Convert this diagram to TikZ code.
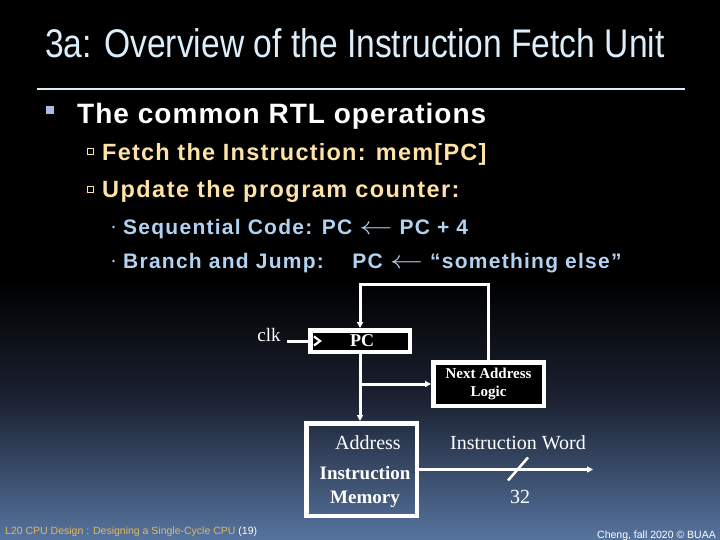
\documentclass[tikz,border=0pt]{standalone}
\usepackage{fontspec}
\setmainfont{Liberation Serif}
\setsansfont{Liberation Sans}
\newfontfamily\slidefont[FakeStretch=0.84]{Liberation Sans}
\usetikzlibrary{arrows.meta,positioning,calc}
\definecolor{bgbot}{HTML}{56749F}
\definecolor{bgmid}{HTML}{1C2232}
\definecolor{titlec}{HTML}{DCEEFA}
\definecolor{lvlone}{HTML}{A8C0DC}
\definecolor{lvltwo}{HTML}{FFE2A6}
\definecolor{lvlthree}{HTML}{B2D2F2}
\definecolor{footgold}{HTML}{E2B95E}
\newcommand{\getsarrow}{ \scalebox{1.6}[1.2]{$\leftarrow$} }
\tikzset{
  reg/.style={draw=white, line width=4.5pt, fill=black, inner sep=0pt, text=white, font=\bfseries\fontsize{18}{20}\selectfont},
  mem/.style={draw=white, line width=4.5pt, inner sep=0pt, text=white, align=center},
  lbl/.style={text=white, inner sep=0pt, font=\fontsize{20}{22}\selectfont},
  wire/.style={draw=white, line width=3pt},
  flow/.style={wire, -{Triangle[length=6pt,width=6pt]}},
  bul/.style={anchor=base west, inner sep=0pt},
}
\begin{document}
\begin{tikzpicture}[x=1pt,y=-1pt,node distance=12pt and 12pt]
  \useasboundingbox (0,0) rectangle (720,540);
  % background
  \fill[black] (0,0) rectangle (720,540);
  \shade[top color=black, bottom color=bgmid] (0,280) rectangle (720,400);
  \shade[top color=bgmid, bottom color=bgbot] (0,400) rectangle (720,540);
  % title
  \node[anchor=base west,inner sep=0pt,text=titlec,font=\slidefont\fontsize{40}{44}\selectfont](title) at (45,58){3a: Overview of the Instruction Fetch Unit};
  \draw[titlec,line width=2pt] (37,89) -- (685,89);
  % bullets
  \fill[lvlone] (46,106) rectangle (54,114);
  \node[bul,text=white,font=\sffamily\bfseries\fontsize{28}{32}\selectfont\addfontfeatures{LetterSpace=3.7}](b1) at (77,124){The common RTL operations};
  \draw[lvltwo,line width=0.8pt] (87,148) rectangle (93,154);
  \node[bul,text=lvltwo,font=\sffamily\bfseries\fontsize{23.5}{26}\selectfont\addfontfeatures{LetterSpace=5.2}](b2) at (102,161){Fetch the Instruction: mem[PC]};
  \draw[lvltwo,line width=0.8pt] (87,186) rectangle (93,192);
  \node[bul,text=lvltwo,font=\sffamily\bfseries\fontsize{23.5}{26}\selectfont\addfontfeatures{LetterSpace=6.2}](b3) at (102,198){Update the program counter:};
  \fill[lvlthree] (113.5,227) circle (1.3);
  \node[bul,text=lvlthree,font=\sffamily\bfseries\fontsize{21}{24}\selectfont\addfontfeatures{LetterSpace=6}](b4) at (123,234){Sequential Code: PC\getsarrow PC + 4};
  \fill[lvlthree] (113.5,261) circle (1.3);
  \node[bul,text=lvlthree,font=\sffamily\bfseries\fontsize{21}{24}\selectfont\addfontfeatures{LetterSpace=6}](b5) at (123,268){Branch and Jump:\ \ \ \ PC\getsarrow “something else”};
  % datapath
  \node[reg,minimum width=99.5pt,minimum height=21.5pt](pc) at (360,341){\hspace*{4pt}PC};
  \node[reg,font=\bfseries\fontsize{15}{18.5}\selectfont,align=center,minimum width=110.5pt,minimum height=43.5pt](nal) at (488.5,384){Next Address\\Logic};
  \node[mem,minimum width=110.5pt,minimum height=92.5pt](im) at (361.5,469.5){};
  \node[lbl,anchor=base] (addr) at (368,449){Address};
  \node[lbl,anchor=base,font=\bfseries\fontsize{19}{20}\selectfont] (imname) at (365,479){Instruction};
  \node[lbl,anchor=base,font=\bfseries\fontsize{19}{20}\selectfont] (imname2) at (365,503){Memory};
  \node[lbl,anchor=base,font=\fontsize{19}{20}\selectfont] (clk) at (269,341){clk};
  \coordinate (fbk) at (0,284);
  \coordinate (tap) at (pc.south |- nal.west);
  \coordinate (bus) at (518,469.5);
  \coordinate (iwout) at (593,469.5);
  \node[lbl,anchor=base] (iw) at (518,449){Instruction Word};
  \node[lbl,anchor=base] (width) at (520,503){32};
  % clock mark
  \draw[white,line width=2.2pt] ($(pc.west)+(6,-4.5)$) -- ($(pc.west)+(12,0)$) -- ($(pc.west)+(6,4.5)$);
  % wires
  \draw[wire] (clk.east |- pc.west) ++(6,0) -- (pc.west);
  \draw[flow] (nal.north) -- (nal.north |- fbk) -| (pc.north);
  \draw[flow] (pc.south) -- (pc.south |- im.north);
  \draw[flow] (tap) -- (nal.west);
  \draw[flow] (im.east |- bus) -- (iwout);
  \draw[wire,line width=2.5pt] ($(bus)+(-10,11)$) -- ($(bus)+(10,-12)$);
  % footer
  \node[anchor=base west,inner sep=0pt,font=\sffamily\fontsize{10.5}{12}\selectfont](foot) at (5,534){\textcolor{footgold}{L20 CPU Design : Designing a Single-Cycle CPU} \textcolor{white}{(19)}};
  \node[anchor=base east,inner sep=0pt,text=white,font=\sffamily\fontsize{10.5}{12}\selectfont](credit) at (716,538){Cheng, fall 2020 © BUAA};
\end{tikzpicture}
\end{document}
